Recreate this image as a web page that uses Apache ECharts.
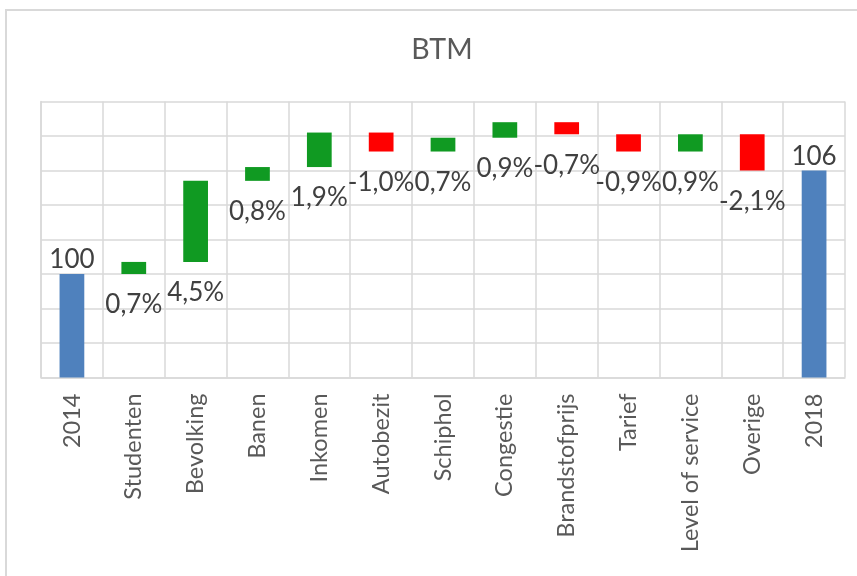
<!DOCTYPE html>
<html>
<head>
<meta charset="utf-8">
<title>BTM</title>
<script src="https://cdn.jsdelivr.net/npm/echarts@6/dist/echarts.min.js"></script>
<style>
  html, body { margin: 0; padding: 0; background: #fff; }
  #chart { width: 857px; height: 576px; }
</style>
</head>
<body>
<div id="chart"></div>
<script>
// categorieën en waarden
const categories = ['2014', 'Studenten', 'Bevolking', 'Banen', 'Inkomen', 'Autobezit', 'Schiphol',
  'Congestie', 'Brandstofprijs', 'Tarief', 'Level of service', 'Overige', '2018'];
// niveau voor de stap (null = totaalkolom)
const fromValues = [null, 100, 100.7, 105.4, 106.2, 108.2, 107.1, 107.9, 108.8, 108.1, 107.1, 108.1, null];
// niveau na de stap
const toValues = [100, 100.7, 105.4, 106.2, 108.2, 107.1, 107.9, 108.8, 108.1, 107.1, 108.1, 106.0, 106];
const valueLabels = ['100', '0,7%', '4,5%', '0,8%', '1,9%', '-1,0%', '0,7%', '0,9%', '-0,7%', '-0,9%', '0,9%', '-2,1%', '106'];
const yTicks = [94, 96, 98, 100, 102, 104, 106, 108, 110];

const FONT = 'Lato';
const colors = { total: '#4f81bd', up: '#109a22', down: '#ff0000' };

const baseData = categories.map((c, i) =>
  fromValues[i] === null ? 0 : Math.min(fromValues[i], toValues[i]));

const stepData = categories.map((c, i) => {
  const isTotal = fromValues[i] === null;
  const size = isTotal ? toValues[i] : Math.abs(toValues[i] - fromValues[i]);
  const color = isTotal ? colors.total : (toValues[i] >= fromValues[i] ? colors.up : colors.down);
  return {
    value: +size.toFixed(2),
    itemStyle: { color: color },
    label: {
      formatter: valueLabels[i],
      position: isTotal ? 'top' : 'bottom',
      distance: isTotal ? 1 : 18
    }
  };
});

const chart = echarts.init(document.getElementById('chart'));
chart.setOption({
  animation: false,
  backgroundColor: '#fff',
  textStyle: { fontFamily: FONT },
  title: {
    text: 'BTM',
    left: 437,
    textAlign: 'center',
    top: 30,
    textStyle: { fontFamily: FONT, fontSize: 28.5, fontWeight: 'normal', color: '#595959' }
  },
  graphic: [{
    type: 'rect',
    shape: { x: 6, y: 10, width: 900, height: 620 },
    style: { fill: null, stroke: '#d9d9d9', lineWidth: 2 },
    silent: true
  }],
  grid: { left: 41, right: 12, top: 101.5, bottom: 198.5, containLabel: false },
  xAxis: {
    type: 'category',
    data: categories,
    axisTick: { show: false },
    axisLine: { lineStyle: { color: '#d9d9d9', width: 1.5 } },
    splitLine: { show: true, interval: 0, lineStyle: { color: '#d9d9d9', width: 1.5 } },
    axisLabel: {
      interval: 0,
      rotate: 90,
      margin: 16,
      fontFamily: FONT,
      fontSize: 23.5,
      color: '#595959'
    }
  },
  yAxis: {
    type: 'value',
    min: yTicks[0],
    max: yTicks[yTicks.length - 1],
    interval: yTicks[1] - yTicks[0],
    axisLabel: { show: false },
    axisTick: { show: false },
    axisLine: { show: true, lineStyle: { color: '#d9d9d9', width: 1.5 } },
    splitLine: { lineStyle: { color: '#d9d9d9', width: 1.5 } }
  },
  series: [
    {
      type: 'bar',
      stack: 'waterfall',
      barWidth: '40%',
      silent: true,
      itemStyle: { color: 'transparent' },
      data: baseData
    },
    {
      type: 'bar',
      stack: 'waterfall',
      barWidth: '40%',
      label: {
        show: true,
        fontFamily: FONT,
        fontSize: 26,
        color: '#404040'
      },
      data: stepData
    }
  ]
});
</script>
</body>
</html>
